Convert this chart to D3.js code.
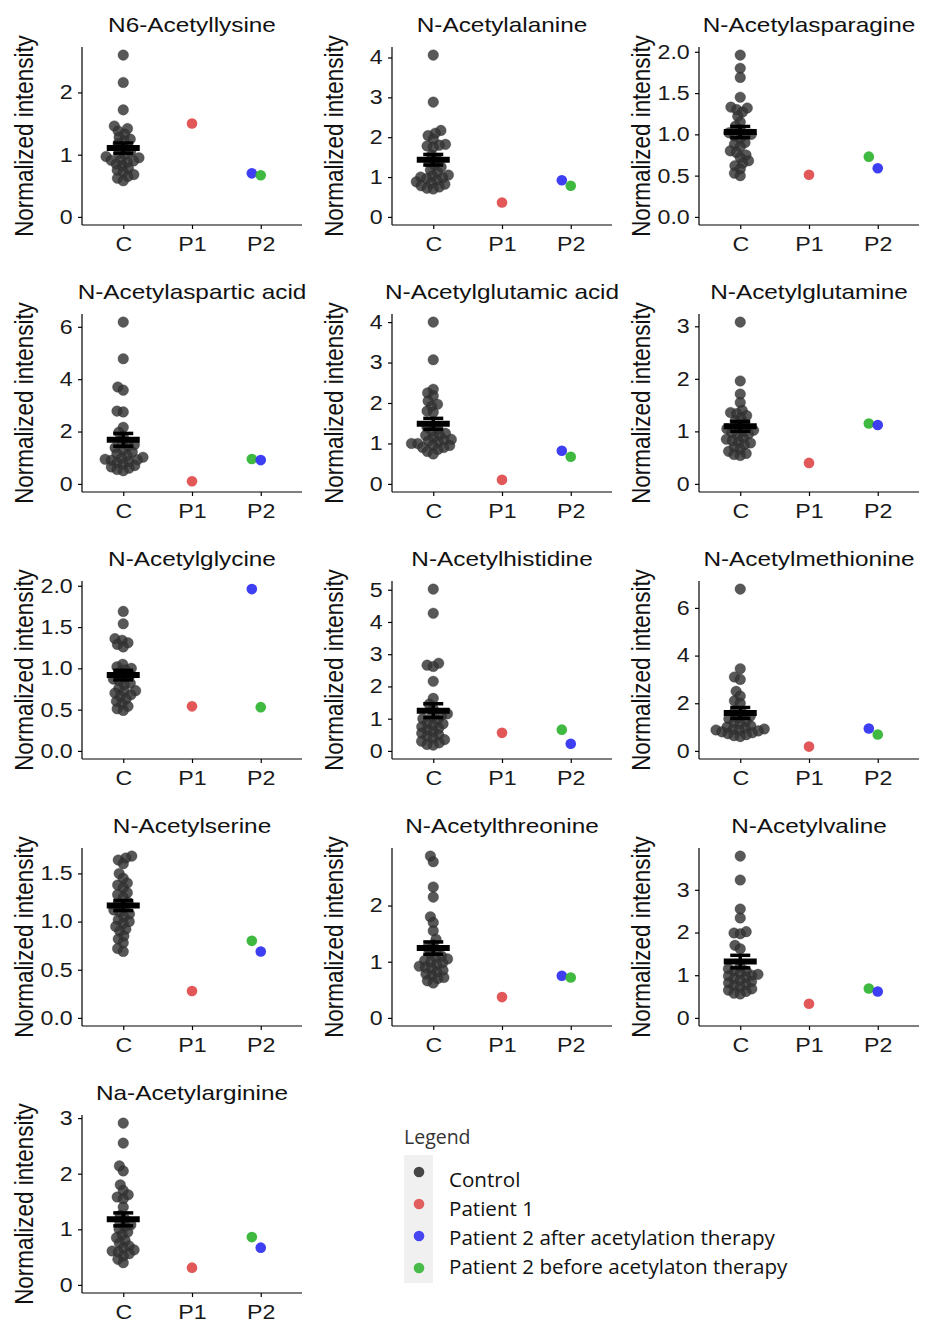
<html>
<head>
    <script src="https://cdn.jsdelivr.net/npm/d3@7"></script>
    <style>
        body {
            margin: 0;
            background: white;
            font-family: "Liberation Sans", Arial, sans-serif;
        }
    </style>
</head>
<body>
<svg id="chart"></svg>
<script>
    // panel titles, in reading order
    let metabolites = [
        "N6-Acetyllysine", "N-Acetylalanine", "N-Acetylasparagine",
        "N-Acetylaspartic acid", "N-Acetylglutamic acid", "N-Acetylglutamine",
        "N-Acetylglycine", "N-Acetylhistidine", "N-Acetylmethionine",
        "N-Acetylserine", "N-Acetylthreonine", "N-Acetylvaline",
        "Na-Acetylarginine"
    ];

    let categories = ["C", "P1", "P2"];

    // control group, normalized intensity
    let controlValues = [
        [2.60, 2.16, 1.72, 1.46, 1.42, 1.38, 1.33, 1.28, 1.25, 1.22, 1.18, 1.12, 1.05, 1.02, 1.00, 0.97, 0.95, 0.92, 0.91, 0.90, 0.88, 0.85, 0.82, 0.78, 0.75, 0.72, 0.68, 0.65, 0.62, 0.58],
        [4.06, 2.88, 2.17, 2.10, 2.04, 1.95, 1.82, 1.80, 1.78, 1.75, 1.55, 1.45, 1.38, 1.30, 1.25, 1.18, 1.12, 1.05, 1.03, 1.00, 0.98, 0.96, 0.92, 0.88, 0.85, 0.82, 0.78, 0.75, 0.72, 0.70],
        [1.96, 1.80, 1.69, 1.45, 1.33, 1.32, 1.30, 1.27, 1.22, 1.15, 1.10, 1.05, 1.02, 1.00, 1.00, 0.98, 0.95, 0.90, 0.88, 0.85, 0.80, 0.78, 0.75, 0.72, 0.68, 0.65, 0.62, 0.58, 0.53, 0.50],
        [6.18, 4.78, 3.70, 3.58, 2.78, 2.75, 2.16, 1.97, 1.80, 1.55, 1.50, 1.45, 1.38, 1.30, 1.22, 1.15, 1.08, 1.02, 0.98, 0.94, 0.92, 0.90, 0.85, 0.80, 0.75, 0.70, 0.65, 0.60, 0.55, 0.50],
        [4.00, 3.07, 2.34, 2.25, 2.18, 2.05, 1.97, 1.92, 1.80, 1.77, 1.40, 1.35, 1.30, 1.25, 1.20, 1.20, 1.15, 1.10, 1.08, 1.06, 1.04, 1.00, 1.00, 0.95, 0.95, 0.90, 0.90, 0.85, 0.80, 0.74],
        [3.08, 1.96, 1.71, 1.55, 1.40, 1.36, 1.34, 1.30, 1.25, 1.20, 1.15, 1.10, 1.05, 1.02, 1.00, 0.98, 0.95, 0.92, 0.88, 0.85, 0.82, 0.80, 0.78, 0.75, 0.70, 0.66, 0.62, 0.58, 0.56, 0.54],
        [1.69, 1.54, 1.36, 1.34, 1.31, 1.29, 1.26, 1.05, 1.02, 1.00, 0.98, 0.95, 0.92, 0.90, 0.87, 0.85, 0.82, 0.80, 0.76, 0.73, 0.72, 0.70, 0.68, 0.66, 0.63, 0.60, 0.57, 0.54, 0.51, 0.49],
        [5.02, 4.27, 2.72, 2.66, 2.62, 2.16, 1.63, 1.45, 1.30, 1.15, 1.10, 1.05, 1.00, 0.95, 0.86, 0.84, 0.80, 0.75, 0.70, 0.65, 0.60, 0.55, 0.50, 0.45, 0.40, 0.35, 0.30, 0.25, 0.20, 0.18],
        [6.79, 3.45, 3.10, 3.00, 2.50, 2.30, 2.10, 2.00, 1.60, 1.55, 1.45, 1.40, 1.35, 1.25, 1.20, 1.15, 1.05, 1.00, 0.95, 0.92, 0.90, 0.88, 0.86, 0.84, 0.80, 0.76, 0.72, 0.68, 0.64, 0.60],
        [1.68, 1.66, 1.64, 1.60, 1.50, 1.45, 1.40, 1.38, 1.35, 1.30, 1.28, 1.25, 1.20, 1.18, 1.15, 1.12, 1.10, 1.08, 1.05, 1.02, 1.00, 0.98, 0.95, 0.92, 0.90, 0.85, 0.82, 0.78, 0.72, 0.69],
        [2.88, 2.78, 2.33, 2.15, 1.80, 1.70, 1.55, 1.40, 1.30, 1.25, 1.20, 1.15, 1.10, 1.08, 1.05, 1.02, 1.00, 0.98, 0.95, 0.92, 0.90, 0.88, 0.85, 0.82, 0.78, 0.75, 0.72, 0.70, 0.66, 0.62],
        [3.79, 3.23, 2.55, 2.34, 2.02, 1.99, 1.97, 1.70, 1.62, 1.10, 1.00, 1.20, 1.15, 1.10, 1.05, 1.02, 0.98, 0.95, 0.92, 0.88, 0.85, 0.82, 0.78, 0.75, 0.72, 0.68, 0.65, 0.62, 0.58, 0.56],
        [2.91, 2.55, 2.14, 2.05, 1.80, 1.70, 1.62, 1.58, 1.55, 1.40, 1.25, 1.18, 1.12, 1.08, 1.05, 1.00, 0.95, 0.90, 0.85, 0.80, 0.75, 0.70, 0.66, 0.63, 0.61, 0.59, 0.56, 0.52, 0.46, 0.40]
    ];

    let patient1Values = [1.50, 0.36, 0.51, 0.10, 0.10, 0.40, 0.54, 0.56, 0.18, 0.28, 0.37, 0.33, 0.31];
    let p2AfterValues  = [0.70, 0.92, 0.59, 0.91, 0.82, 1.12, 1.96, 0.22, 0.94, 0.69, 0.75, 0.62, 0.67];
    let p2BeforeValues = [0.67, 0.78, 0.73, 0.95, 0.67, 1.15, 0.53, 0.66, 0.69, 0.80, 0.72, 0.69, 0.86];

    let yTickValues = [
        [0, 1, 2], [0, 1, 2, 3, 4], [0, 0.5, 1, 1.5, 2],
        [0, 2, 4, 6], [0, 1, 2, 3, 4], [0, 1, 2, 3],
        [0, 0.5, 1, 1.5, 2], [0, 1, 2, 3, 4, 5], [0, 2, 4, 6],
        [0, 0.5, 1, 1.5], [0, 1, 2], [0, 1, 2, 3],
        [0, 1, 2, 3]
    ];

    let legendLabels = ["Control", "Patient 1", "Patient 2 after acetylation therapy", "Patient 2 before acetylaton therapy"];
    let groupColors = ["#333333", "#e04f4f", "#3434f2", "#35b535"];

    function getConfig() {
        let width = 931;
        let height = 1323;
        let colX = [0, 310, 617];
        let rowH = 267;
        let plot = { left: 82, right: 302, top: 47, bottom: 225 };
        let r = 5.3;
        // the reference text is a bit wider than it is tall
        let stretch = 1.16;
        let container = d3.select("#chart")
            .attr("width", width)
            .attr("height", height);
        return { width, height, colX, rowH, plot, r, stretch, container };
    }

    // simple beeswarm: place points (sorted by value) as close to the centre as possible
    function swarmOffsets(ys, minDist) {
        let order = d3.range(ys.length).sort((a, b) => ys[b] - ys[a]);
        let placed = [];
        let offsets = new Array(ys.length);
        order.forEach(i => {
            let y = ys[i];
            let blocks = [];
            placed.forEach(p => {
                let dy = Math.abs(p.y - y);
                if (dy < minDist) {
                    let dx = Math.sqrt(minDist * minDist - dy * dy);
                    blocks.push([p.x - dx, p.x + dx]);
                }
            });
            let candidates = [0];
            blocks.forEach(b => candidates.push(b[0], b[1]));
            candidates.sort((a, b) => Math.abs(a) - Math.abs(b));
            let x = candidates.find(c => blocks.every(b => c <= b[0] + 1e-6 || c >= b[1] - 1e-6));
            offsets[i] = x;
            placed.push({ x, y });
        });
        return offsets;
    }

    function drawPanel(i, config) {
        let { colX, rowH, plot, r, stretch, container } = config;
        let col = i % 3, row = Math.floor(i / 3);
        let g = container.append("g")
            .attr("transform", `translate(${colX[col]},${row * rowH})`);

        let ctrl = controlValues[i];
        let all = ctrl.concat([patient1Values[i], p2AfterValues[i], p2BeforeValues[i]]);
        let maxV = d3.max(all);
        let pad = maxV * 0.05;

        let yScale = d3.scaleLinear()
            .domain([-pad, maxV + pad])
            .range([plot.bottom, plot.top]);
        let xScale = d3.scalePoint()
            .domain(categories)
            .range([plot.left, plot.right])
            .padding(0.6);

        // controls, swarmed
        let ys = ctrl.map(v => yScale(v));
        let offs = swarmOffsets(ys, 6.3);
        g.selectAll(".ctrl")
            .data(ctrl)
            .enter().append("circle")
            .attr("class", "ctrl")
            .attr("cx", (d, j) => xScale("C") + offs[j])
            .attr("cy", d => yScale(d))
            .attr("r", r)
            .attr("fill", groupColors[0])
            .attr("fill-opacity", 0.82)
            .attr("stroke", "#222")
            .attr("stroke-opacity", 0.5)
            .attr("stroke-width", 0.6);

        // patients: P2 pair shifts the higher value to the left
        let step = xScale.step();
        let p2 = [
            { v: p2AfterValues[i], c: groupColors[2] },
            { v: p2BeforeValues[i], c: groupColors[3] }
        ].sort((a, b) => b.v - a.v);
        let patients = [
            { cat: "P1", v: patient1Values[i], c: groupColors[1], dx: 0 },
            { cat: "P2", v: p2[0].v, c: p2[0].c, dx: -0.13 * step },
            { cat: "P2", v: p2[1].v, c: p2[1].c, dx: 0 }
        ];
        g.selectAll(".pat")
            .data(patients)
            .enter().append("circle")
            .attr("class", "pat")
            .attr("cx", d => xScale(d.cat) + d.dx)
            .attr("cy", d => yScale(d.v))
            .attr("r", r)
            .attr("fill", d => d.c)
            .attr("fill-opacity", 0.95);

        // mean +- SE
        let mean = d3.mean(ctrl);
        let se = d3.deviation(ctrl) / Math.sqrt(ctrl.length);
        let cx = xScale("C");
        let eb = g.append("g").attr("stroke", "black");
        eb.append("line")
            .attr("x1", cx).attr("x2", cx)
            .attr("y1", yScale(mean - se)).attr("y2", yScale(mean + se))
            .attr("stroke-width", 3.5);
        [mean - se, mean + se].forEach(v => {
            eb.append("line")
                .attr("x1", cx - 10).attr("x2", cx + 10)
                .attr("y1", yScale(v)).attr("y2", yScale(v))
                .attr("stroke-width", 3.5);
        });
        eb.append("line")
            .attr("x1", cx - 16.5).attr("x2", cx + 16.5)
            .attr("y1", yScale(mean)).attr("y2", yScale(mean))
            .attr("stroke-width", 6);

        // axes
        let ticks = yTickValues[i];
        let fmt = ticks.some(t => t % 1 !== 0) ? d3.format(".1f") : d3.format("d");
        let yAxis = g.append("g")
            .attr("transform", `translate(${plot.left},0)`)
            .call(d3.axisLeft(yScale).tickValues(ticks).tickFormat(fmt).tickSize(4).tickSizeOuter(0).tickPadding(4));
        yAxis.select(".domain").attr("d", `M0,${plot.top}V${plot.bottom}`);

        let xAxis = g.append("g")
            .attr("transform", `translate(0,${plot.bottom})`)
            .call(d3.axisBottom(xScale).tickSize(4).tickSizeOuter(0).tickPadding(8));
        xAxis.select(".domain").attr("d", `M${plot.left},0H${plot.right}`);

        [yAxis, xAxis].forEach(a => {
            a.selectAll("text")
                .attr("font-size", 20)
                .attr("font-family", "'Liberation Sans', Arial, sans-serif")
                .attr("fill", "#1a1a1a")
                .attr("transform", `scale(${stretch},1)`);
            a.selectAll("line, path").attr("stroke", "black").attr("stroke-width", 1.2);
        });

        g.append("text")
            .attr("transform", `translate(${(plot.left + plot.right) / 2},32) scale(${stretch},1)`)
            .attr("text-anchor", "middle")
            .attr("font-size", 21)
            .attr("fill", "#111")
            .text(metabolites[i]);

        g.append("text")
            .attr("transform", `translate(33,${(plot.top + plot.bottom) / 2}) rotate(-90) scale(1,${stretch})`)
            .attr("text-anchor", "middle")
            .attr("font-size", 22.4)
            .attr("fill", "#111")
            .text("Normalized intensity");
    }

    function drawLegend(config) {
        let { container, r } = config;
        let lg = container.append("g");
        lg.append("text")
            .attr("x", 404).attr("y", 1144)
            .attr("font-family", "'Open Sans', sans-serif")
            .attr("font-size", 19.5)
            .attr("fill", "#333")
            .text("Legend");
        lg.append("rect")
            .attr("x", 404).attr("y", 1155)
            .attr("width", 29).attr("height", 128)
            .attr("fill", "#f0f0f0");
        lg.selectAll(".key")
            .data(legendLabels)
            .enter().append("circle")
            .attr("class", "key")
            .attr("cx", 419)
            .attr("cy", (d, i) => 1172 + i * 32)
            .attr("r", r)
            .attr("fill", (d, i) => groupColors[i])
            .attr("fill-opacity", 0.9);
        lg.selectAll(".lab")
            .data(legendLabels)
            .enter().append("text")
            .attr("class", "lab")
            .attr("x", 449)
            .attr("y", (d, i) => 1187 + i * 29)
            .attr("font-family", "'Open Sans', sans-serif")
            .attr("font-size", 20.6)
            .attr("fill", "#111")
            .text(d => d);
    }

    let config = getConfig();
    metabolites.forEach((m, i) => drawPanel(i, config));
    drawLegend(config);
</script>
</body>
</html>
